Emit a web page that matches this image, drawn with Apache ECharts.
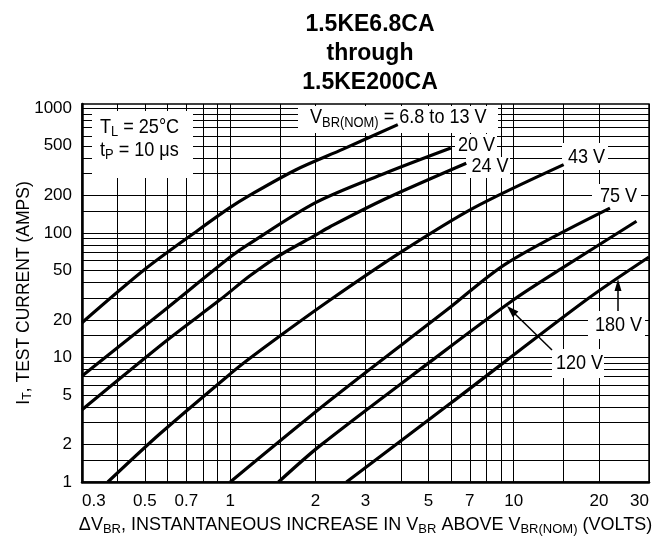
<!DOCTYPE html>
<html><head><meta charset="utf-8">
<script src="https://cdn.jsdelivr.net/npm/echarts@6/dist/echarts.min.js"></script>
<style>html,body{margin:0;padding:0;background:#fff}#c{width:659px;height:542px}</style>
</head><body><div id="c"></div>
<script>
// ---- data ----
const xGridValues = [0.3,0.4,0.5,0.6,0.7,0.8,0.9,1,1.5,2,3,4,5,6,7,8,9,10,15,20,30];
const yGridValues = [1,1.5,2,3,4,5,6,7,8,9,10,15,20,30,40,50,60,70,80,90,100,150,200,300,400,500,600,700,800,900,1000];
const xTickLabels = [0.3,0.5,0.7,1,2,3,5,7,10,20,30];
const yTickLabels = [1,2,5,10,20,50,100,200,500,1000];
const seriesNames = ['6.8 to 13 V','20 V','24 V','43 V','75 V','120 V','180 V'];
const curve6_8to13V = [[0.3,19],[0.5,51],[0.77,105],[1.0,160],[1.17,200],[1.7,320],[2.5,470],[3.9,740]];
const curve20V = [[0.3,7.1],[0.58,23.5],[1.0,64],[1.17,82],[2,175],[3.5,300],[6,480]];
const curve24V = [[0.3,3.8],[0.6,13.8],[0.92,29],[1.17,45],[1.46,64],[2,96],[2.25,112],[3.5,186],[6.8,362]];
const curve43V = [[0.37,1],[0.565,2.44],[1.02,7.66],[1.17,9.8],[1.48,14.6],[2.25,28.9],[4,70],[7.2,158],[15,353]];
const curve75V = [[1.0,1],[2.25,4.53],[5.8,24],[9.44,57],[21.85,158]];
const curve120V = [[1.48,1],[2.07,1.95],[5,9],[9.96,28.9],[15,53],[27.1,124]];
const curve180V = [[2.57,1],[6,4.3],[18,28.9],[30,64]];
const curves = [curve6_8to13V,curve20V,curve24V,curve43V,curve75V,curve120V,curve180V];

// ---- styles ----
const F = "'Liberation Sans',Arial,sans-serif";
const richSub = (main, sub, lh, pad) => ({
  a: {fontSize: main, fontFamily: F, color: '#000', lineHeight: lh},
  s: {fontSize: sub, fontFamily: F, color: '#000', lineHeight: lh, padding: [pad,0,0,0]}
});
const fmt = v => String(+(+v).toPrecision(6));

const chart = echarts.init(document.getElementById('c'), null, {renderer: 'canvas'});

const annoText = (x, y, text, align) => ({
  type: 'text', x: x, y: y, z: 100, scaleX: 0.86,
  style: {text: text, rich: richSub(21, 15, 26, 10), fill: '#000', align: align || 'center', verticalAlign: 'middle', fontFamily: F, fontSize: 21}
});
const whiteBox = (x, y, w, h) => ({type: 'rect', z: 3, shape: {x: x, y: y, width: w, height: h}, style: {fill: '#fff'}});

chart.setOption({
  animation: false,
  backgroundColor: '#fff',
  title: {
    text: '1.5KE6.8CA\nthrough\n1.5KE200CA',
    left: 365, top: 5, textAlign: 'center',
    textStyle: {fontSize: 23, fontWeight: 'bold', lineHeight: 29, fontFamily: F, color: '#000'}
  },
  grid: {left: 82, right: 10, top: 104, bottom: 60, containLabel: false, outerBoundsMode: 'none',
         show: true, borderColor: '#000', borderWidth: 1.5, backgroundColor: 'transparent'},
  xAxis: {
    type: 'log', logBase: 10, min: 0.3, max: 30,
    axisLine: {show: true, onZero: false, lineStyle: {color: '#000', width: 2.5}},
    axisTick: {show: false, customValues: xGridValues},
    axisLabel: {customValues: xTickLabels, formatter: fmt, color: '#000', fontSize: 17, fontFamily: F, margin: 11, alignMinLabel: 'left', alignMaxLabel: 'right', hideOverlap: false},
    splitLine: {show: true, lineStyle: {color: '#000', width: 1}},
    name: '{a|\u0394V}{s|BR}{a|, INSTANTANEOUS INCREASE IN V}{s|BR}{a| ABOVE V}{s|BR(NOM)}{a| (VOLTS)}',
    nameLocation: 'middle', nameGap: 32, nameMoveOverlap: false,
    nameTextStyle: {rich: richSub(18, 13, 22, 8), fontFamily: F, fontSize: 18, color: '#000'}
  },
  yAxis: {
    type: 'log', logBase: 10, min: 1, max: 1083,
    axisLine: {show: true, onZero: false, lineStyle: {color: '#000', width: 2.5}},
    axisTick: {show: false, customValues: yGridValues},
    axisLabel: {customValues: yTickLabels, formatter: fmt, color: '#000', fontSize: 17, fontFamily: F, margin: 10, hideOverlap: false},
    splitLine: {show: true, lineStyle: {color: '#000', width: 1}},
    name: '{a|I}{s|T}{a|, TEST CURRENT (AMPS)}',
    nameLocation: 'middle', nameGap: 47, nameMoveOverlap: false,
    nameTextStyle: {rich: richSub(17.5, 12.5, 22, 8), fontFamily: F, fontSize: 17.5, color: '#000'}
  },
  series: curves.map((d, i) => ({
    name: seriesNames[i], type: 'line', data: d, showSymbol: false, smooth: 0.3, z: 5,
    lineStyle: {color: '#000', width: 3.2}, silent: true
  })),
  graphic: [
    whiteBox(92, 111, 101, 67),
    annoText(100, 127, '{a|T}{s|L}{a| = 25\u00B0C}', 'left'),
    annoText(100, 150, '{a|t}{s|P}{a| = 10 \u03BCs}', 'left'),
    whiteBox(298, 106, 200, 27),
    annoText(310, 117.5, '{a|V}{s|BR(NOM)}{a| = 6.8 to 13 V}', 'left'),
    whiteBox(455, 134, 42, 23), annoText(476.5, 145.5, '{a|20 V}'),
    whiteBox(466, 157, 44, 21), annoText(490, 166, '{a|24 V}'),
    whiteBox(562, 143, 46, 27), annoText(586.5, 157.5, '{a|43 V}'),
    whiteBox(592, 184, 49, 27), annoText(618.5, 196.5, '{a|75 V}'),
    whiteBox(588, 311, 57, 28), annoText(618.5, 325, '{a|180 V}'),
    whiteBox(552, 349, 52, 29), annoText(579.5, 363, '{a|120 V}'),
    {type: 'line', z: 100, shape: {x1: 552, y1: 350, x2: 512, y2: 311}, style: {stroke: '#000', lineWidth: 1.5}},
    {type: 'polygon', z: 100, shape: {points: [[507,306],[518.4,311.5],[512.8,317.3]]}, style: {fill: '#000'}},
    {type: 'line', z: 100, shape: {x1: 618, y1: 311, x2: 618, y2: 288}, style: {stroke: '#000', lineWidth: 1.5}},
    {type: 'polygon', z: 100, shape: {points: [[618,279],[614.5,291],[621.5,291]]}, style: {fill: '#000'}}
  ]
});
</script></body></html>
